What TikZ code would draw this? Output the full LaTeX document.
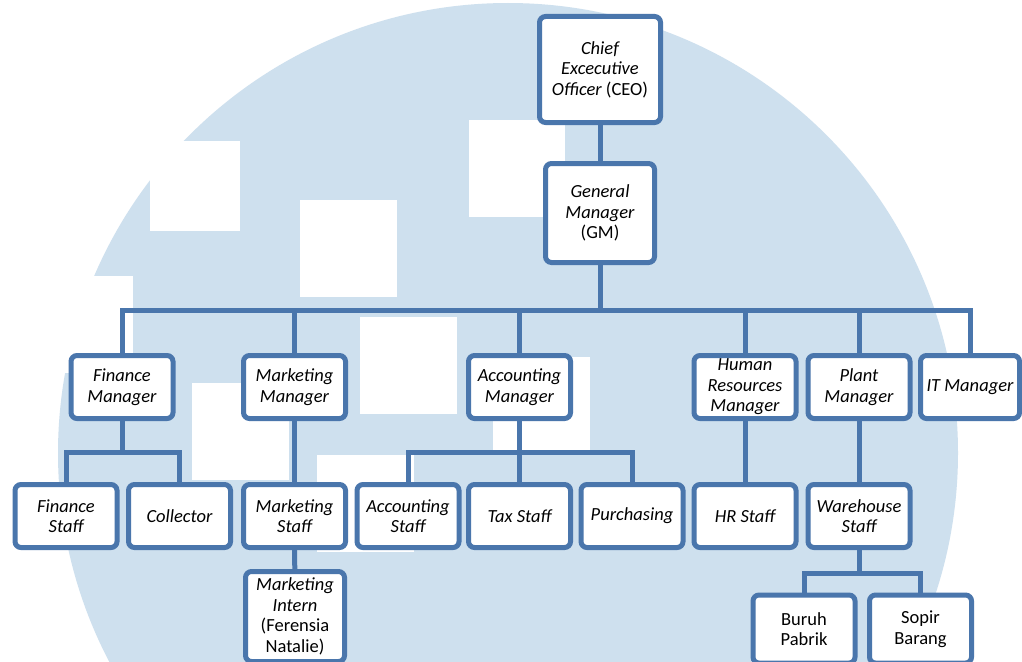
\documentclass[tikz,border=0pt]{standalone}
\usepackage{fontspec}
\setmainfont{Carlito}
\definecolor{orgblue}{RGB}{74,118,172}
\definecolor{wmblue}{RGB}{206,224,238}

\begin{document}
\begin{tikzpicture}[x=1pt,y=-1pt]
    \tikzstyle{post}=[
      rectangle,
      rounded corners=6pt,
      draw=orgblue,
      fill=white,
      line width=5pt,
      align=center,
      anchor=center,
      inner sep=0.5pt,
      font=\fontsize{18.5}{20.5}\selectfont\itshape,
      minimum width=102pt,
      minimum height=63pt,
    ]
    \tikzstyle{link}=[line width=5pt,draw=orgblue]

    \useasboundingbox (0,0) rectangle (1022,661);
    \fill[white] (0,0) rectangle (1022,661);

    % watermark
    \fill[wmblue] (508,453) circle[radius=450pt];
    \fill[white] (150,141) rectangle (240,231);
    \fill[white] (300,200) rectangle (397,297);
    \fill[white] (469,120) rectangle (565,217);
    \fill[white] (36,276) rectangle (133,373);
    \fill[white] (360,317) rectangle (457,414);
    \fill[white] (192,383) rectangle (289,480);
    \fill[white] (317,455) rectangle (414,552);
    \fill[white] (493,357) rectangle (590,454);

    \node[post,minimum width=121pt,minimum height=106pt] (nCEO) at (600,69.5) {Chief\\Excecutive\\Officer {\upshape(CEO)}};
    \node[post,minimum width=109pt,minimum height=99pt] (nGM) at (600,213) {General\\Manager\\{\upshape(GM)}};

    \node[post] (nFinMgr) at (122,387) {Finance\\Manager};
    \node[post] (nMktMgr) at (294.5,387) {Marketing\\Manager};
    \node[post] (nAccMgr) at (519.5,387) {Accounting\\Manager};
    \node[post] (nHRMgr) at (745,387) {Human\\Resources\\Manager};
    \node[post] (nPlantMgr) at (859,387) {Plant\\Manager};
    \node[post,minimum width=99pt] (nITMgr) at (970,387) {IT Manager};

    \node[post] (nFinStaff) at (66,516) {Finance\\Staff};
    \node[post] (nCollector) at (179.5,516) {Collector};
    \node[post] (nMktStaff) at (294.5,516) {Marketing\\Staff};
    \node[post] (nAccStaff) at (408,516) {Accounting\\Staff};
    \node[post] (nTaxStaff) at (519.5,516) {Tax Staff};
    \node[post] (nPurch) at (632,516) {Purchasing};
    \node[post] (nHRStaff) at (745,516) {HR Staff};
    \node[post] (nWhStaff) at (859,516) {Warehouse\\Staff};

    \node[post,minimum width=99pt,minimum height=90pt] (nIntern) at (295,616.5) {Marketing\\Intern\\{\upshape(Ferensia}\\{\upshape Natalie)}};
    \node[post,minimum height=68pt] (nBuruh) at (804,629) {{\upshape Buruh}\\{\upshape Pabrik}};
    \node[post,minimum height=68pt] (nSopir) at (920.5,629) {{\upshape Sopir}\\{\upshape Barang}};

    \coordinate (cBus) at (600,310);
    \coordinate (cFinBus) at (122,452);
    \coordinate (cAccBus) at (519.5,452);
    \coordinate (cWhBus) at (859,573);

    \draw[link] (nCEO)--(nGM);
    \draw[link] (nGM)--(cBus);
    \draw[link] (nFinMgr.north)|-(cBus)-|(nITMgr.north);
    \foreach \n in {nMktMgr,nAccMgr,nHRMgr,nPlantMgr}
      \draw[link] (\n.north)--(\n.north|-cBus);

    \draw[link] (nFinMgr)--(cFinBus);
    \draw[link] (nFinStaff.north)|-(cFinBus)-|(nCollector.north);
    \draw[link] (nMktMgr)--(nMktStaff);
    \draw[link] (nMktStaff)--(nIntern);
    \draw[link] (nAccMgr)--(cAccBus);
    \draw[link] (nAccStaff.north)|-(cAccBus)-|(nPurch.north);
    \draw[link] (cAccBus)--(nTaxStaff);
    \draw[link] (nHRMgr)--(nHRStaff);
    \draw[link] (nPlantMgr)--(nWhStaff);
    \draw[link] (nWhStaff)--(cWhBus);
    \draw[link] (nBuruh.north)|-(cWhBus)-|(nSopir.north);
  \end{tikzpicture}
\end{document}
